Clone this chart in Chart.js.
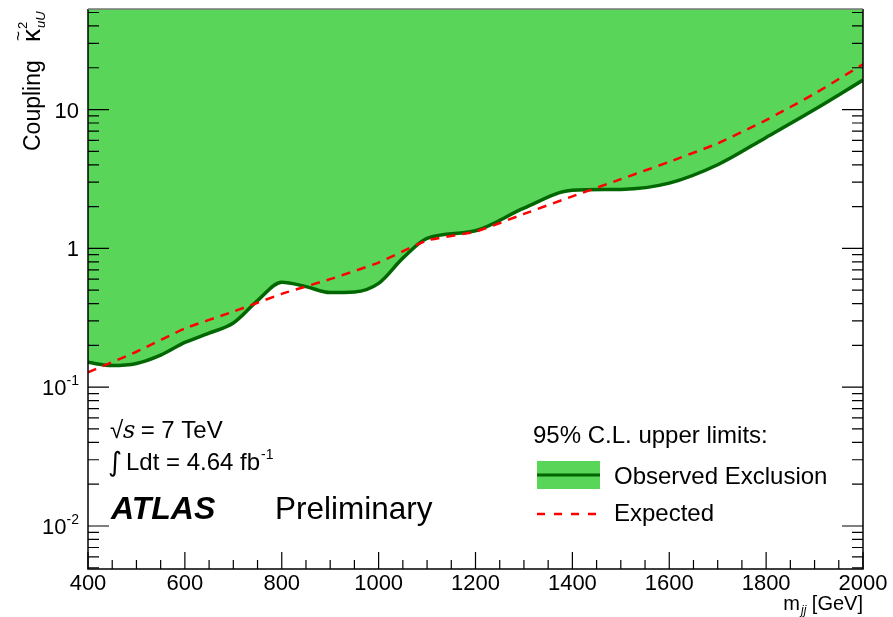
<!DOCTYPE html>
<html lang="en">
<head>
    <meta charset="UTF-8">
    <title>Coupling limits</title>
    <style>
        body { margin: 0; background: #fff; }
        canvas { display: block; }
    </style>
</head>
<body>
    <canvas id="limitChart" width="893" height="617"></canvas>
    <script src="https://cdn.jsdelivr.net/npm/chart.js"></script>

    <script>
        // observed limit (green band boundary)
        const obsMass = [400, 450, 500, 550, 600, 650, 700, 750, 800, 850, 900, 950, 1000, 1050, 1100, 1200, 1300, 1400, 1500, 1600, 1700, 1800, 1900, 2000];
        const obsLimit = [0.151, 0.143, 0.148, 0.17, 0.21, 0.245, 0.29, 0.42, 0.57, 0.53, 0.48, 0.485, 0.56, 0.85, 1.18, 1.34, 1.95, 2.62, 2.66, 2.95, 4.0, 6.3, 10.0, 16.3];

        // expected limit (red dashed)
        const expMass = [400, 500, 600, 700, 800, 900, 1000, 1100, 1200, 1300, 1400, 1500, 1600, 1700, 1800, 1900, 2000];
        const expLimit = [0.128, 0.18, 0.265, 0.35, 0.47, 0.6, 0.79, 1.14, 1.32, 1.77, 2.37, 3.15, 4.2, 5.7, 8.4, 13.0, 21.2];

        // axis ticks
        const xMajorTicks = [400, 600, 800, 1000, 1200, 1400, 1600, 1800, 2000];
        const yMajorTicks = [0.01, 0.1, 1, 10];
        const yTickLabels = [['10', '-2'], ['10', '-1'], ['1', ''], ['10', '']];

        const green = '#59d559';
        const darkGreen = '#006600';
        const FONT = '"Liberation Sans", Arial, sans-serif';

        function toPts(xs, ys) {
            return xs.map((x, i) => ({ x: x, y: ys[i] }));
        }

        // ROOT style frame, inward ticks and all the text
        const frameAndText = {
            id: 'frameAndText',
            afterDraw(chart) {
                const ctx = chart.ctx;
                const xs = chart.scales.x;
                const ys = chart.scales.y;
                const a = chart.chartArea;
                ctx.save();

                // frame
                ctx.strokeStyle = '#000';
                ctx.lineWidth = 1.5;
                ctx.beginPath();
                ctx.moveTo(a.left, a.top);
                ctx.lineTo(a.left, a.bottom);
                ctx.lineTo(a.right, a.bottom);
                ctx.lineTo(a.right, a.top);
                ctx.stroke();
                ctx.strokeStyle = '#777';
                ctx.beginPath();
                ctx.moveTo(a.left, a.top);
                ctx.lineTo(a.right, a.top);
                ctx.stroke();

                // x ticks
                ctx.strokeStyle = '#000';
                ctx.lineWidth = 1.2;
                ctx.beginPath();
                for (let v = xs.min; v <= xs.max; v += 50) {
                    const px = xs.getPixelForValue(v);
                    const len = xMajorTicks.includes(v) ? 17 : 9;
                    ctx.moveTo(px, a.bottom);
                    ctx.lineTo(px, a.bottom - len);
                }
                // y ticks, both sides
                for (let d = 0.001; d <= 100; d *= 10) {
                    for (let m = 1; m <= 9; m++) {
                        const v = d * m;
                        if (v < ys.min || v > ys.max) continue;
                        const py = ys.getPixelForValue(v);
                        const len = m === 1 ? 21 : 11;
                        ctx.moveTo(a.left, py);
                        ctx.lineTo(a.left + len, py);
                        ctx.moveTo(a.right, py);
                        ctx.lineTo(a.right - len, py);
                    }
                }
                ctx.stroke();

                ctx.fillStyle = '#000';
                // x tick labels
                ctx.font = '22px ' + FONT;
                ctx.textAlign = 'center';
                ctx.textBaseline = 'alphabetic';
                xMajorTicks.forEach(v => {
                    ctx.fillText(String(v), xs.getPixelForValue(v), 590);
                });

                // y tick labels
                yMajorTicks.forEach((v, i) => {
                    const py = ys.getPixelForValue(v);
                    const base = yTickLabels[i][0];
                    const sup = yTickLabels[i][1];
                    ctx.font = '14px ' + FONT;
                    const sw = sup ? ctx.measureText(sup).width : 0;
                    ctx.font = '22px ' + FONT;
                    const bw = ctx.measureText(base).width;
                    const right = 79;
                    ctx.textAlign = 'left';
                    ctx.fillText(base, right - sw - bw, py + 8);
                    if (sup) {
                        ctx.font = '14px ' + FONT;
                        ctx.fillText(sup, right - sw, py - 2);
                    }
                });

                // x title
                ctx.font = '20px ' + FONT;
                const xt1 = ' [GeV]';
                const w1 = ctx.measureText(xt1).width;
                ctx.font = 'italic 12px ' + FONT;
                const wsub = ctx.measureText('jj').width;
                ctx.font = '20px ' + FONT;
                const wm = ctx.measureText('m').width;
                let xx = 862 - w1 - wsub - wm;
                ctx.textAlign = 'left';
                ctx.fillText('m', xx, 610);
                ctx.font = 'italic 12px ' + FONT;
                ctx.fillText('jj', xx + wm + 1, 614);
                ctx.font = '20px ' + FONT;
                ctx.fillText(xt1, xx + wm + wsub + 1, 610);

                // y title (rotated)
                ctx.save();
                ctx.translate(40, 0);
                ctx.rotate(-Math.PI / 2);
                ctx.textAlign = 'left';
                ctx.font = '23px ' + FONT;
                ctx.fillText('Coupling', -151, 0);
                ctx.font = '26px ' + FONT;
                ctx.fillText('\u03ba', -42, 0);
                const kw = ctx.measureText('\u03ba').width;
                ctx.font = '17px ' + FONT;
                ctx.fillText('~', -41, -16);
                ctx.font = '13px ' + FONT;
                ctx.fillText('2', -42 + kw, -13);
                ctx.font = 'italic 13px ' + FONT;
                ctx.fillText('uU', -42 + kw + 1, 5);
                ctx.restore();

                // info text
                ctx.font = '24px ' + FONT;
                ctx.fillText('\u221a', 110, 438);
                ctx.font = 'italic 24px "DejaVu Serif", serif';
                ctx.fillText('s', 123, 438);
                ctx.font = '24px ' + FONT;
                ctx.fillText(' = 7 TeV', 134, 438);

                ctx.font = '27px "DejaVu Sans", sans-serif';
                ctx.fillText('\u222b', 108, 471);
                ctx.font = '24px ' + FONT;
                ctx.fillText('Ldt = 4.64 fb', 126, 470);
                const lw = ctx.measureText('Ldt = 4.64 fb').width;
                ctx.font = '14px ' + FONT;
                ctx.fillText('-1', 126 + lw + 1, 459);

                ctx.font = 'italic bold 32px ' + FONT;
                ctx.fillText('ATLAS', 111, 519);
                ctx.font = '31.5px ' + FONT;
                ctx.fillText('Preliminary', 275, 519);

                // legend
                ctx.font = '24px ' + FONT;
                ctx.fillText('95% C.L. upper limits:', 533, 443);
                ctx.fillStyle = green;
                ctx.fillRect(537, 461, 63, 28);
                ctx.strokeStyle = darkGreen;
                ctx.lineWidth = 3;
                ctx.beginPath();
                ctx.moveTo(537, 475);
                ctx.lineTo(600, 475);
                ctx.stroke();
                ctx.fillStyle = '#000';
                ctx.fillText('Observed Exclusion', 614, 484);
                ctx.strokeStyle = '#ff0000';
                ctx.lineWidth = 2.5;
                ctx.setLineDash([8, 9]);
                ctx.beginPath();
                ctx.moveTo(537, 514);
                ctx.lineTo(600, 514);
                ctx.stroke();
                ctx.setLineDash([]);
                ctx.fillText('Expected', 614, 521);

                ctx.restore();
            }
        };

        new Chart(document.getElementById('limitChart'), {
            type: 'line',
            data: {
                datasets: [
                    {
                        label: 'Expected',
                        data: toPts(expMass, expLimit),
                        borderColor: '#ff0000',
                        borderWidth: 2.5,
                        borderDash: [9, 7],
                        pointRadius: 0,
                        tension: 0.15,
                        fill: false
                    },
                    {
                        label: 'Observed Exclusion',
                        data: toPts(obsMass, obsLimit),
                        borderColor: darkGreen,
                        backgroundColor: green,
                        borderWidth: 3.5,
                        pointRadius: 0,
                        cubicInterpolationMode: 'monotone',
                        fill: 'end'
                    }
                ]
            },
            options: {
                responsive: false,
                animation: false,
                layout: { padding: { left: 88, right: 30, top: 9, bottom: 48 } },
                plugins: {
                    legend: { display: false },
                    tooltip: { enabled: false }
                },
                scales: {
                    x: { type: 'linear', min: 400, max: 2000, display: false },
                    y: { type: 'logarithmic', min: 0.0049, max: 53, display: false }
                }
            },
            plugins: [frameAndText]
        });
    </script>
</body>
</html>
